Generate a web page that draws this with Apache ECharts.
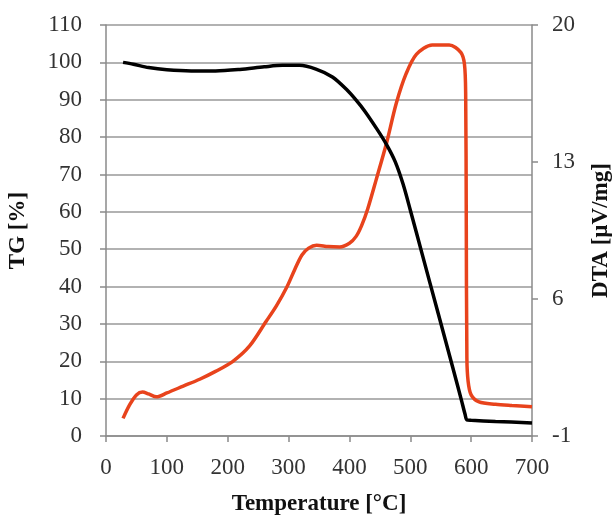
<!DOCTYPE html>
<html>
<head>
<meta charset="utf-8">
<script src="https://cdn.jsdelivr.net/npm/echarts@6/dist/echarts.min.js"></script>
<style>
html,body{margin:0;padding:0;background:#fff;}
#chart{width:616px;height:515px;}
</style>
</head>
<body>
<div id="chart"></div>
<script>
// TG curve (black, left axis, %)
var tgTemp   = [28, 45, 70, 100, 140, 180, 220, 260, 290, 318, 345, 372, 395, 411, 425, 445, 461, 475, 488, 500, 520, 545, 570, 584, 590, 593, 600, 640, 700];
var tgValues = [100.0, 99.5, 98.6, 98.0, 97.7, 97.7, 98.1, 98.8, 99.2, 99.2, 98.2, 96.1, 92.8, 89.9, 87.0, 82.2, 78.0, 73.5, 67.5, 60.5, 48.4, 33.3, 18.2, 9.6, 5.8, 4.3, 4.2, 3.9, 3.5];

// DTA curve (red, right axis, µV/mg)
var dtaTemp   = [28, 39, 50, 60, 70, 83, 100, 127, 154, 180, 208, 236, 263, 280, 297, 310, 322, 333, 346, 365, 384, 400, 411, 420, 430, 444, 461, 477, 493, 510, 536, 564, 583, 589, 591, 592, 593, 595, 600, 613, 640, 667, 700];
var dtaValues = [-0.1, 0.6, 1.1, 1.25, 1.15, 1.0, 1.2, 1.55, 1.9, 2.3, 2.8, 3.6, 4.85, 5.65, 6.6, 7.5, 8.25, 8.6, 8.75, 8.68, 8.66, 8.85, 9.2, 9.75, 10.6, 12.1, 13.97, 16.0, 17.5, 18.5, 18.98, 18.98, 18.6, 18.0, 16.5, 10.0, 3.0, 1.8, 1.1, 0.74, 0.62, 0.56, 0.5];

// axis ticks
var xTicks = {min: 0, max: 700, interval: 100};
var tgTicks = {min: 0, max: 110, interval: 10};
var dtaTicks = {min: -1, max: 20, interval: 7};

var axisTitles = {x: 'Temperature [°C]', tg: 'TG [%]', dta: 'DTA [µV/mg]'};

function pairs(xs, ys){ return xs.map(function(x,i){ return [x, ys[i]]; }); }

var font = 'Liberation Serif';
var lineGray = '#8a8a8a';
var labelStyle = {fontFamily: font, fontSize: 23, color: '#333'};
var nameStyle = {fontFamily: font, fontSize: 23, fontWeight: 'bold', color: '#111'};

var chart = echarts.init(document.getElementById('chart'), null, {renderer: 'canvas'});
chart.setOption({
  animation: false,
  backgroundColor: '#fff',
  grid: {left: 106, right: 84, top: 25, bottom: 79, containLabel: false, outerBoundsMode: 'none'},
  xAxis: {
    type: 'value', min: xTicks.min, max: xTicks.max, interval: xTicks.interval,
    name: axisTitles.x, nameLocation: 'middle', nameGap: 57, nameTextStyle: nameStyle,
    axisLine: {show: true, lineStyle: {color: lineGray, width: 1.5}},
    axisTick: {show: true, length: 6, lineStyle: {color: lineGray, width: 1.5}},
    axisLabel: Object.assign({margin: 20}, labelStyle),
    splitLine: {show: false}
  },
  yAxis: [{
    type: 'value', position: 'left', min: tgTicks.min, max: tgTicks.max, interval: tgTicks.interval,
    name: axisTitles.tg, nameLocation: 'middle', nameGap: 76, nameRotate: 90, nameTextStyle: nameStyle,
    axisLine: {show: true, lineStyle: {color: lineGray, width: 1.5}},
    axisTick: {show: true, length: 6, lineStyle: {color: lineGray, width: 1.5}},
    axisLabel: Object.assign({margin: 24}, labelStyle),
    splitLine: {show: true, lineStyle: {color: '#999', width: 1.5}}
  }, {
    type: 'value', position: 'right', min: dtaTicks.min, max: dtaTicks.max, interval: dtaTicks.interval,
    name: axisTitles.dta, nameLocation: 'middle', nameGap: 58, nameRotate: 90, nameTextStyle: nameStyle,
    axisLine: {show: true, lineStyle: {color: lineGray, width: 1.5}},
    axisTick: {show: true, length: 6, lineStyle: {color: lineGray, width: 1.5}},
    axisLabel: Object.assign({margin: 20}, labelStyle),
    splitLine: {show: false}
  }],
  series: [{
    name: 'TG', type: 'line', yAxisIndex: 0, data: pairs(tgTemp, tgValues),
    smooth: 0.3, showSymbol: false,
    lineStyle: {color: '#000', width: 3.5}, z: 3
  }, {
    name: 'DTA', type: 'line', yAxisIndex: 1, data: pairs(dtaTemp, dtaValues),
    smooth: 0.3, showSymbol: false,
    lineStyle: {color: '#E8431C', width: 3.5}, z: 2
  }]
});
</script>
</body>
</html>
